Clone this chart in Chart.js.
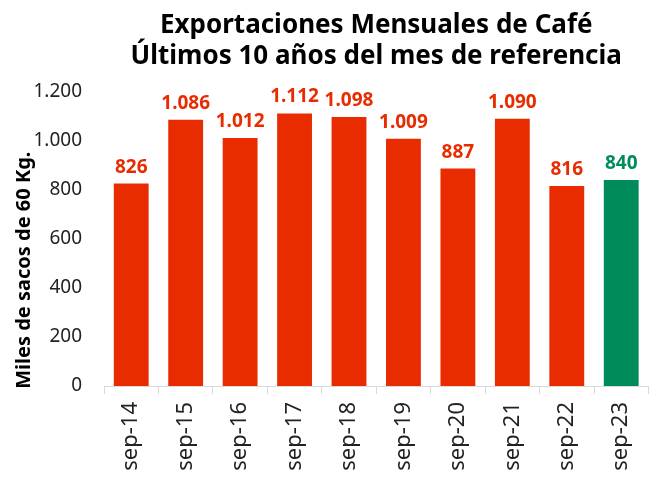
<!DOCTYPE html>
<html>
<head>
<meta charset="utf-8">
<script src="https://cdn.jsdelivr.net/npm/chart.js@4"></script>
<style>
  html, body { margin: 0; padding: 0; background: #fff; }
  #wrap { width: 656px; height: 481px; }
</style>
</head>
<body>
<div id="wrap"><canvas id="cafeChart"></canvas></div>
<script>
const categorias = ["sep-14", "sep-15", "sep-16", "sep-17", "sep-18", "sep-19", "sep-20", "sep-21", "sep-22", "sep-23"];
const exportaciones = [826, 1086, 1012, 1112, 1098, 1009, 887, 1090, 816, 840];
const coloresBarras = ["#e82c00", "#e82c00", "#e82c00", "#e82c00", "#e82c00", "#e82c00", "#e82c00", "#e82c00", "#e82c00", "#008c5a"];

const fuente = "'Noto Sans', sans-serif";

// separador de miles con punto
function formatoMiles(v) {
  return String(v).replace(/\B(?=(\d{3})+(?!\d))/g, ".");
}

// etiquetas encima de cada barra
const etiquetasBarras = {
  id: "etiquetasBarras",
  afterDatasetsDraw(chart) {
    const ctx = chart.ctx;
    const meta = chart.getDatasetMeta(0);
    ctx.save();
    ctx.font = "bold 19px " + fuente;
    ctx.textAlign = "center";
    ctx.textBaseline = "alphabetic";
    meta.data.forEach((bar, i) => {
      ctx.fillStyle = coloresBarras[i];
      ctx.fillText(formatoMiles(exportaciones[i]), bar.x, bar.y - 11);
    });
    ctx.restore();
  },
};

const ctx = document.getElementById("cafeChart").getContext("2d");
new Chart(ctx, {
  type: "bar",
  data: {
    labels: categorias,
    datasets: [
      {
        label: "Exportaciones",
        data: exportaciones,
        backgroundColor: coloresBarras,
        borderWidth: 0,
        barPercentage: 0.64,
        categoryPercentage: 1,
      },
    ],
  },
  options: {
    responsive: true,
    maintainAspectRatio: false,
    animation: false,
    layout: { padding: { left: 12, right: 0, top: 0, bottom: 0 } },
    scales: {
      y: {
        min: 0,
        max: 1200,
        afterFit: (scale) => { scale.width = 92; },
        ticks: {
          stepSize: 200,
          color: "#222",
          font: { family: fuente, size: 19 },
          padding: 14,
          callback: (v) => formatoMiles(v),
        },
        grid: { display: false },
        border: { display: false },
        title: {
          display: true,
          text: "Miles de sacos de 60 Kg.            ",
          color: "#000",
          font: { family: fuente, size: 20, weight: "bold" },
          padding: { top: 0, bottom: 0 },
        },
      },
      x: {
        afterFit: (scale) => { scale.height = 95; },
        ticks: {
          color: "#222",
          font: { family: fuente, size: 22 },
          minRotation: 90,
          maxRotation: 90,
          padding: 8,
        },
        grid: {
          display: true,
          offset: true,
          drawOnChartArea: false,
          tickLength: 8,
          color: "#d9d9d9",
        },
        border: { display: true, color: "#d9d9d9" },
      },
    },
    plugins: {
      legend: { display: false },
      tooltip: { enabled: false },
      title: {
        display: true,
        fullSize: false,
        text: ["Exportaciones Mensuales de Café", "Últimos 10 años del mes de referencia"],
        color: "#000",
        font: { family: fuente, size: 26, weight: "bold", lineHeight: 1.19 },
        padding: { top: 10, bottom: 20 },
      },
    },
  },
  plugins: [etiquetasBarras],
});
</script>
</body>
</html>
